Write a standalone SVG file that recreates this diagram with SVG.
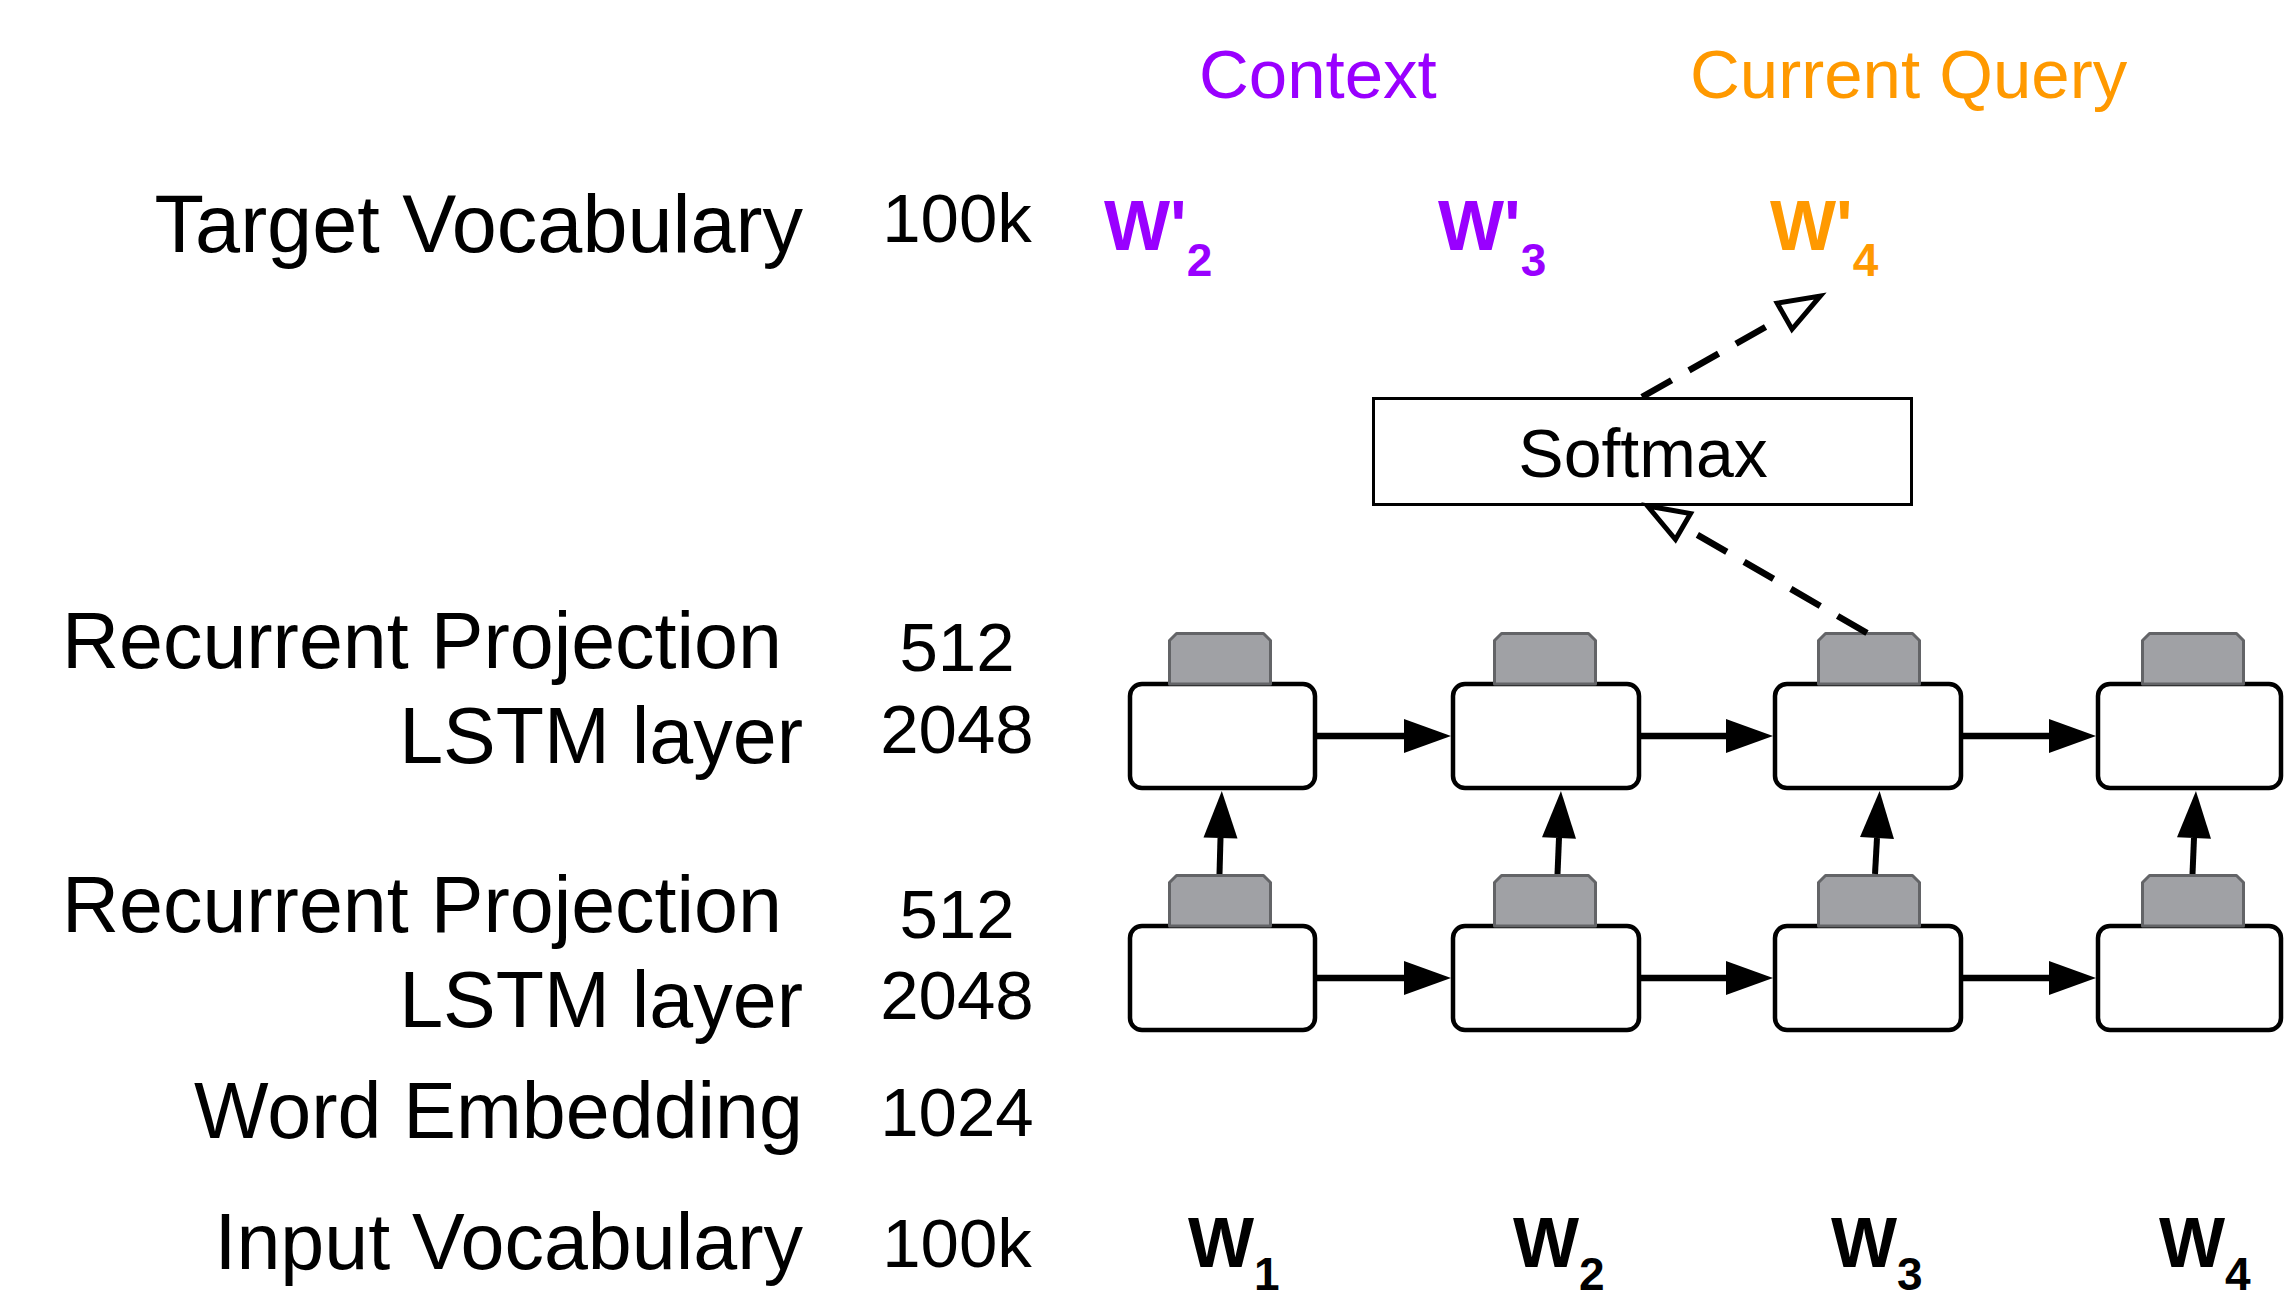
<svg xmlns="http://www.w3.org/2000/svg" width="2284" height="1294" viewBox="0 0 2284 1294">
  <style>
    .lbl { font-family: "Liberation Sans", Arial, sans-serif; font-size: 79px; fill: #000; }
    .big { font-size: 81px; }
    .num { font-family: "Liberation Sans", Arial, sans-serif; font-size: 69px; fill: #000; text-anchor: middle; }
    .hdr { font-family: "Liberation Sans", Arial, sans-serif; font-size: 69px; }
    .w { font-family: "Liberation Sans", Arial, sans-serif; font-size: 70px; font-weight: bold; }
    .sub { font-size: 46px; }
    .purple { fill: #9900FF; }
    .orange { fill: #FF9900; }
    .box { fill: #fff; stroke: #000; stroke-width: 4.5; }
    .proj { fill: #A0A1A5; stroke: #636467; stroke-width: 3; stroke-linejoin: round; }
    .solid { stroke: #000; stroke-width: 6.5; fill: none; marker-end: url(#head); }
    .vert { stroke: #000; stroke-width: 6; fill: none; marker-end: url(#head); }
    .dash { stroke: #000; stroke-width: 6.5; fill: none; stroke-dasharray: 34 20; marker-end: url(#open); }
  </style>
  <defs>
    <marker id="head" markerUnits="userSpaceOnUse" orient="auto" refX="0" refY="0" markerWidth="50" markerHeight="40" overflow="visible">
      <path d="M0,-17 L47,0 L0,17 Z" fill="#000"/>
    </marker>
    <marker id="open" markerUnits="userSpaceOnUse" orient="auto" refX="0" refY="0" markerWidth="50" markerHeight="40" overflow="visible">
      <path d="M0,-15 L41,0 L0,15 Z" fill="#fff" stroke="#000" stroke-width="5" stroke-linejoin="miter"/>
    </marker>
    <path id="projShape" d="M0,50.5 V7 L7,0 H94 L101,7 V50.5 Z"/>
  </defs>

  <g id="labels">
    <text class="lbl big" x="803" y="252" text-anchor="end">Target Vocabulary</text>
    <text class="num" x="957" y="242">100k</text>
    <text class="lbl" x="782" y="668" text-anchor="end">Recurrent Projection</text>
    <text class="num" x="957" y="671">512</text>
    <text class="lbl" x="803" y="763" text-anchor="end">LSTM layer</text>
    <text class="num" x="957" y="753">2048</text>
    <text class="lbl" x="782" y="932" text-anchor="end">Recurrent Projection</text>
    <text class="num" x="957" y="938">512</text>
    <text class="lbl" x="803" y="1027" text-anchor="end">LSTM layer</text>
    <text class="num" x="957" y="1019">2048</text>
    <text class="lbl" x="803" y="1138" text-anchor="end">Word Embedding</text>
    <text class="num" x="957" y="1136">1024</text>
    <text class="lbl" x="803" y="1269" text-anchor="end">Input Vocabulary</text>
    <text class="num" x="957" y="1267">100k</text>
  </g>

  <g id="headers">
    <text class="hdr purple" x="1199" y="98">Context</text>
    <text class="hdr orange" x="1690" y="98">Current Query</text>
  </g>

  <g id="targets">
    <text class="w purple" x="1104" y="250">W'<tspan class="sub" dy="26">2</tspan></text>
    <text class="w purple" x="1438" y="250">W'<tspan class="sub" dy="26">3</tspan></text>
    <text class="w orange" x="1770" y="250">W'<tspan class="sub" dy="26">4</tspan></text>
  </g>

  <g id="inputs">
    <text class="w" x="1188" y="1267">W<tspan class="sub" dy="23">1</tspan></text>
    <text class="w" x="1513" y="1267">W<tspan class="sub" dy="23">2</tspan></text>
    <text class="w" x="1831" y="1267">W<tspan class="sub" dy="23">3</tspan></text>
    <text class="w" x="2159" y="1267">W<tspan class="sub" dy="23">4</tspan></text>
  </g>

  <g id="softmax">
    <rect x="1373.5" y="398.5" width="538" height="106" fill="#fff" stroke="#000" stroke-width="3"/>
    <text x="1643" y="477" font-family="Liberation Sans, Arial, sans-serif" font-size="68" text-anchor="middle">Softmax</text>
  </g>

  <g id="lstm-top-1"><rect class="box" x="1130" y="684" width="185" height="104" rx="12"/><use href="#projShape" class="proj" x="1169.5" y="633.5"/></g>
  <g id="lstm-top-2"><rect class="box" x="1453" y="684" width="186" height="104" rx="12"/><use href="#projShape" class="proj" x="1494.5" y="633.5"/></g>
  <g id="lstm-top-3"><rect class="box" x="1775" y="684" width="186" height="104" rx="12"/><use href="#projShape" class="proj" x="1818.5" y="633.5"/></g>
  <g id="lstm-top-4"><rect class="box" x="2098" y="684" width="183" height="104" rx="12"/><use href="#projShape" class="proj" x="2142.5" y="633.5"/></g>

  <g id="lstm-bot-1"><rect class="box" x="1130" y="926" width="185" height="104" rx="12"/><use href="#projShape" class="proj" x="1169.5" y="875.5"/></g>
  <g id="lstm-bot-2"><rect class="box" x="1453" y="926" width="186" height="104" rx="12"/><use href="#projShape" class="proj" x="1494.5" y="875.5"/></g>
  <g id="lstm-bot-3"><rect class="box" x="1775" y="926" width="186" height="104" rx="12"/><use href="#projShape" class="proj" x="1818.5" y="875.5"/></g>
  <g id="lstm-bot-4"><rect class="box" x="2098" y="926" width="183" height="104" rx="12"/><use href="#projShape" class="proj" x="2142.5" y="875.5"/></g>

  <g id="connectors">
    <line class="solid" x1="1317" y1="736" x2="1404" y2="736"/>
    <line class="solid" x1="1641" y1="736" x2="1726" y2="736"/>
    <line class="solid" x1="1963" y1="736" x2="2049" y2="736"/>
    <line class="solid" x1="1317" y1="978" x2="1404" y2="978"/>
    <line class="solid" x1="1641" y1="978" x2="1726" y2="978"/>
    <line class="solid" x1="1963" y1="978" x2="2049" y2="978"/>
    <line class="vert" x1="1219.5" y1="874" x2="1220.5" y2="838"/>
    <line class="vert" x1="1557.5" y1="874" x2="1559" y2="838"/>
    <line class="vert" x1="1875" y1="874" x2="1877" y2="838"/>
    <line class="vert" x1="2192.5" y1="874" x2="2194" y2="838"/>
    <line class="dash" x1="1867" y1="633" x2="1683" y2="526.5"/>
    <line class="dash" x1="1642" y1="397" x2="1784.6" y2="316.2"/>
  </g>
</svg>
